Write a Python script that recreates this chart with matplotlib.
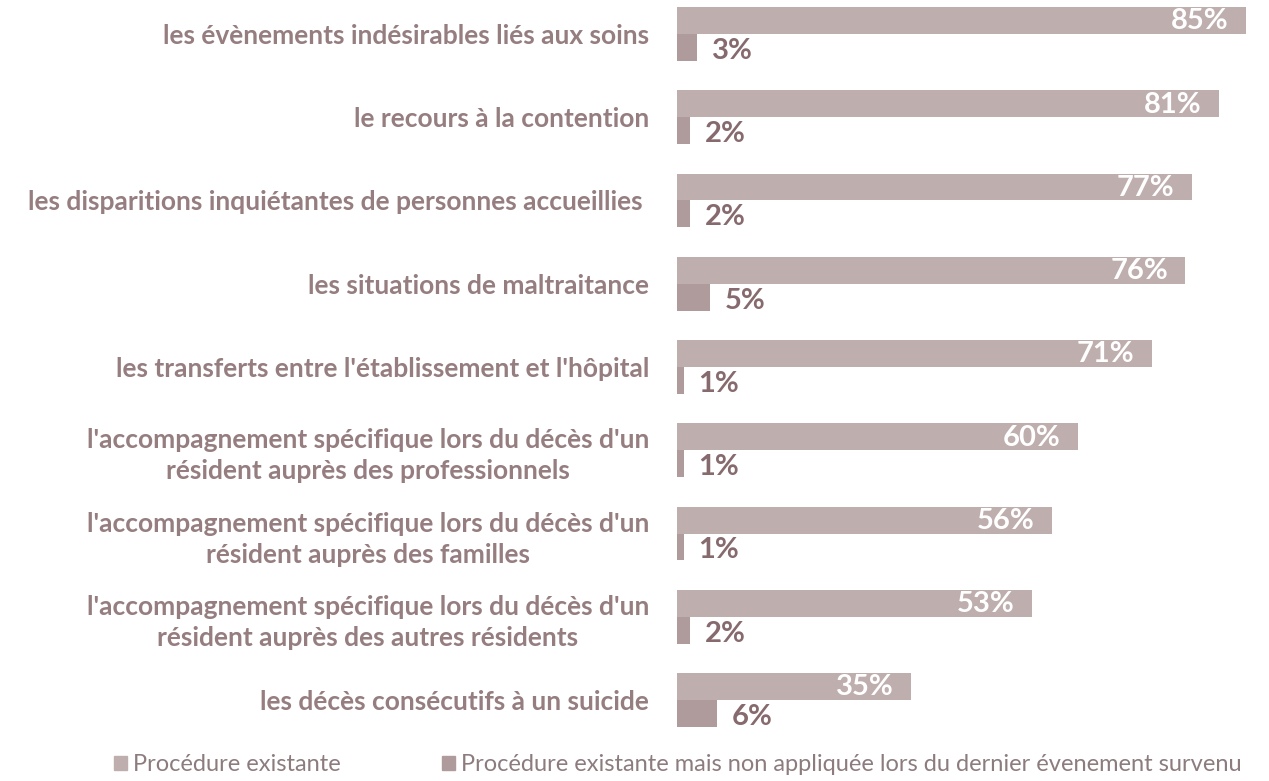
import numpy as np
import matplotlib.pyplot as plt
from matplotlib.patches import Patch

# ==========================
# Data
# ==========================
categories = [
    "les évènements indésirables liés aux soins",
    "le recours à la contention",
    "les disparitions inquiétantes de personnes accueillies ",
    "les situations de maltraitance",
    "les transferts entre l'établissement et l'hôpital",
    "l'accompagnement spécifique lors du décès d'un\nrésident auprès des professionnels",
    "l'accompagnement spécifique lors du décès d'un\nrésident auprès des familles",
    "l'accompagnement spécifique lors du décès d'un\nrésident auprès des autres résidents",
    "les décès consécutifs à un suicide",
]
existante = [85, 81, 77, 76, 71, 60, 56, 53, 35]
non_appliquee = [3, 2, 2, 5, 1, 1, 1, 2, 6]

series_names = [
    "Procédure existante",
    "Procédure existante mais non appliquée lors du dernier évenement survenu",
]

# ==========================
# Style
# ==========================
c_top = "#bfaeae"
c_bot = "#b09b9c"
c_label = "#957d80"
c_value = "#866a6e"
c_legend = "#8c7c7e"

plt.rcParams["font.family"] = ["Lato", "DejaVu Sans"]

fig = plt.figure(figsize=(12.69, 7.81), dpi=100)
ax = fig.add_axes([677 / 1269, 41 / 781, 1 - 677 / 1269, 740 / 781])

y = np.arange(len(categories))
h = 0.324

ax.barh(y - h / 2, existante, height=h, color=c_top)
ax.barh(y + h / 2, non_appliquee, height=h, color=c_bot)

for i, v in enumerate(existante):
    ax.text(v - 2.6, i - h / 2 + 0.01, f"{v}%", ha="right", va="center",
            color="white", fontsize=21, fontweight="bold")
for i, v in enumerate(non_appliquee):
    ax.text(v + 2.2, i + h / 2 + 0.04, f"{v}%", ha="left", va="center",
            color=c_value, fontsize=21, fontweight="bold")

ax.set_xlim(0, 88.5)
ax.set_ylim(8.48, -0.408)
ax.set_yticks(y)
ax.set_yticklabels(categories, fontsize=19, fontweight="bold", color=c_label,
                   linespacing=1.35)
for lbl in ax.get_yticklabels():
    lbl.set_multialignment("center")
ax.tick_params(axis="y", length=0, pad=20)
ax.set_xticks([])
for s in ax.spines.values():
    s.set_visible(False)

handles = [Patch(color=c_top), Patch(color=c_bot)]
fig.legend(handles, series_names, loc="lower left",
           bbox_to_anchor=(93 / 1269, -0.02),
           ncol=2, frameon=False, fontsize=17, labelcolor=c_legend,
           handlelength=0.55, handleheight=0.55, handletextpad=0.25,
           columnspacing=4.3)

fig.savefig("out.png", dpi=100)
plt.close()
